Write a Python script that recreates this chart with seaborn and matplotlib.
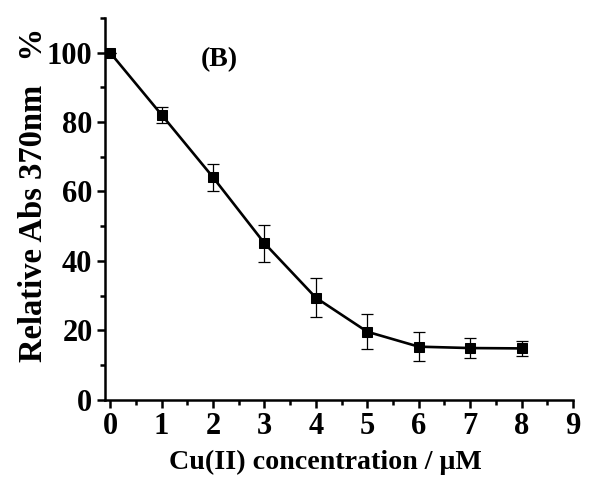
import numpy as np
import pandas as pd
import matplotlib.pyplot as plt
import seaborn as sns
from matplotlib.ticker import MultipleLocator

conc = [0, 1, 2, 3, 4, 5, 6, 7, 8]
rel_abs = [100, 82.1, 64.1, 45.1, 29.4, 19.6, 15.3, 14.9, 14.8]
err = [0, 2.3, 3.9, 5.3, 5.6, 5.0, 4.2, 2.8, 2.2]

df = pd.DataFrame({'conc': conc, 'abs': rel_abs, 'err': err})

sns.set_style('ticks')
plt.rcParams['font.family'] = ['Liberation Serif', 'DejaVu Serif']
plt.rcParams['font.weight'] = 'bold'
plt.rcParams['text.color'] = 'black'
plt.rcParams['axes.labelcolor'] = 'black'
plt.rcParams['xtick.color'] = 'black'
plt.rcParams['ytick.color'] = 'black'
plt.rcParams['axes.edgecolor'] = 'black'

fig = plt.figure(figsize=(6, 4.84), dpi=100)
ax = fig.add_axes([0.175, 0.174, 0.78, 0.789])

ax.errorbar(df['conc'], df['abs'], yerr=df['err'], fmt='none',
            ecolor='black', elinewidth=0.9, capsize=4, capthick=0.9, zorder=2)
sns.lineplot(data=df, x='conc', y='abs', marker='s', color='black',
             linewidth=1.9, markersize=6.5, markeredgecolor='black', ax=ax, zorder=3)

ax.set_xlim(-0.1, 9)
ax.set_ylim(0, 110)
ax.xaxis.set_major_locator(MultipleLocator(1))
ax.xaxis.set_minor_locator(MultipleLocator(0.5))
ax.yaxis.set_major_locator(MultipleLocator(20))
ax.yaxis.set_minor_locator(MultipleLocator(10))
ax.set_yticks(range(0, 101, 20))

sns.despine(ax=ax)
for s in ['left', 'bottom']:
    ax.spines[s].set_linewidth(1.8)
ax.tick_params(which='major', length=6, width=1.8, labelsize=22, direction='out', pad=3)
ax.tick_params(which='minor', length=3.5, width=1.8, direction='out')
for lab in ax.get_xticklabels() + ax.get_yticklabels():
    lab.set_fontweight('bold')

ax.set_xlabel('Cu(II) concentration / μM', fontsize=20.2, fontweight='bold')
ax.set_ylabel('Relative Abs 370nm   %', fontsize=23.5, fontweight='bold')
ax.yaxis.set_label_coords(-0.12, 0.537)
ax.xaxis.set_label_coords(0.47, -0.13)

ax.text(2.12, 98, '(B)', fontsize=20, fontweight='bold', ha='center', va='center')

fig.savefig('out.png', dpi=100)
